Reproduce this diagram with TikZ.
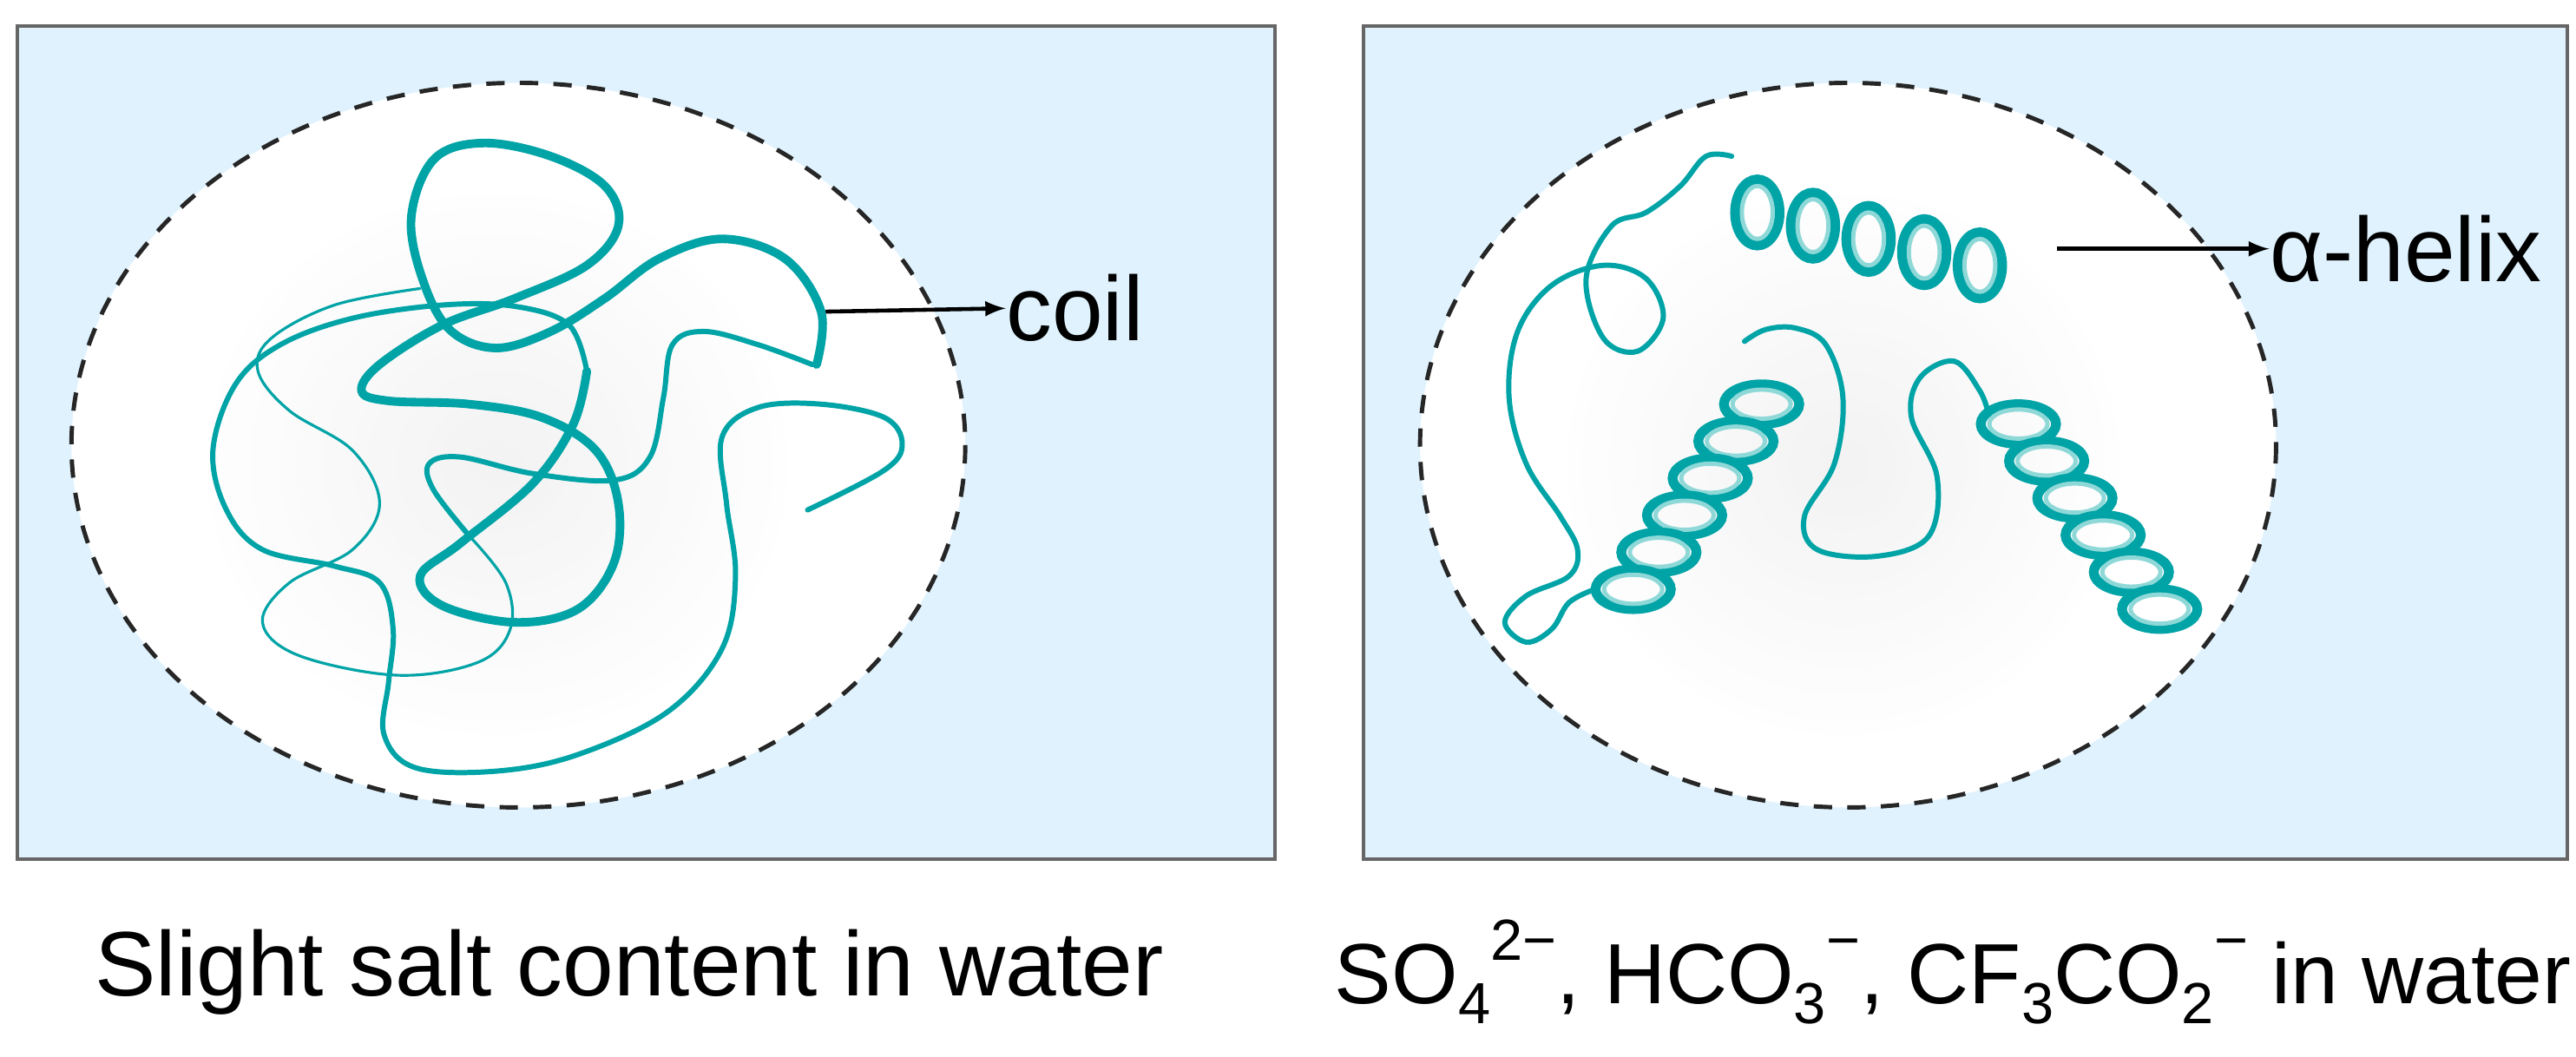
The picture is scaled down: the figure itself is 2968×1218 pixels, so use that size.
\documentclass[tikz,border=0pt]{standalone}
\usepackage{fontspec}
\setmainfont{Liberation Sans}
\newcommand\mysub[1]{\raisebox{-0.45ex}{\fontsize{19}{19}\selectfont #1}}
\newcommand\mysup[1]{\raisebox{0.95ex}{\fontsize{19}{19}\selectfont #1}}
\begin{document}
\begin{tikzpicture}[x=0.01cm,y=-0.01cm]
\definecolor{bgblue}{HTML}{DFF2FD}
\definecolor{teal1}{HTML}{00A3A6}
\definecolor{teallight}{HTML}{8ED8D8}
\tikzset{panel/.style={fill=bgblue,draw=black!60,line width=1.2pt},
  drop/.style={fill=white,draw=black!85,dashed,dash pattern=on 6pt off 5pt,line width=1.4pt},
  thickc/.style={teal1,line width=2.8pt,line cap=round},
  medc/.style={teal1,line width=1.7pt,line cap=round},
  thinc/.style={teal1,line width=0.9pt,line cap=round},
  lbl/.style={font=\fontsize{30}{34}\selectfont,inner sep=0pt},
  captext/.style={font=\fontsize{30}{34}\selectfont,inner sep=0pt},
  ptr/.style={-latex,line width=1.3pt,black},
  ring/.style={draw=teal1,line width=3.2pt,fill=none},
  ringin/.style={draw=teallight,line width=1.4pt}}
\useasboundingbox (0,0) rectangle (2968,1218);
\fill[white] (0,0) rectangle (2968,1218);
\draw[panel] (20,30) rectangle (1469,990);
\draw[panel] (1571,30) rectangle (2958,990);
% left
\begin{scope}[shift={(-9.04,1.04)},x=0.01037cm,y=-0.00762cm]
\draw[drop] (584,672) ellipse [x radius=496,y radius=548];
\shade[inner color=black!8,outer color=white,opacity=0.6] (560,700) ellipse [x radius=330,y radius=420];
\draw[thickc] plot[smooth,tension=0.6] coordinates {(915,550)(920,470)(880,390)(810,360)(740,390)(680,450)(620,500)(560,525)(510,500)(480,430)(465,330)(490,240)(545,215)(620,235)(680,280)(695,340)(660,400)(580,450)(500,490)(430,550)(410,590)(440,605)(530,610)(610,630)(670,680)(695,760)(690,850)(650,920)(580,940)(500,915)(475,870)(520,820)(600,730)(645,640)(660,560)};
\draw[medc] plot[smooth,tension=0.6] coordinates {(660,560)(640,490)(580,462)(500,460)(400,480)(320,520)(270,580)(245,680)(260,770)(300,830)(380,855)(430,880)(445,950)(440,1030)(435,1110)(470,1160)(560,1165)(650,1140)(750,1075)(810,980)(825,870)(815,760)(810,660)(850,615)(920,610)(990,630)(1010,670)(990,710)(905,770)};
\draw[thinc] plot[smooth,tension=0.6] coordinates {(475,435)(380,460)(310,510)(295,560)(330,620)(400,680)(430,760)(400,830)(330,880)(300,940)(340,990)(450,1020)(540,1000)(575,950)(570,880)(530,810)};
\draw[medc] plot[smooth,tension=0.6] coordinates {(530,810)(490,740)(485,700)(520,690)(600,715)(690,725)(730,690)(745,600)(755,520)(790,500)(850,520)(910,550)};
\coordinate (c0) at (925,470);
\node[lbl,anchor=west] (coil) at (1125,465) {coil};
\draw[ptr] (c0) -- (coil.west);
\end{scope}
% right
\begin{scope}[shift={(1531.6,1.04)},x=0.00985cm,y=-0.00762cm]
\draw[drop] (606,672) ellipse [x radius=500,y radius=548];
\shade[inner color=black!8,outer color=white,opacity=0.6] (600,700) ellipse [x radius=330,y radius=420];
\draw[medc] plot[smooth,tension=0.6] coordinates {(470,235)(440,235)(410,280)(370,320)(330,340)(300,420)(320,510)(360,530)(390,480)(370,420)(320,400)(260,430)(220,500)(210,600)(230,700)(270,780)(290,830)(280,870)(230,900)(205,940)(230,970)(260,950)(280,910)(310,890)};
\draw[medc] plot[smooth,tension=0.6] coordinates {(485,515)(510,497)(545,495)(580,520)(600,600)(590,700)(555,780)(570,830)(640,840)(700,810)(710,720)(680,630)(690,570)(730,545)(760,590)(770,625)};
\foreach \i in {0,...,4}{
  \draw[ring] ({500+\i*65},{320+\i*20}) ellipse [x radius=26,y radius=50];
  \draw[ringin] ({500+\i*65},{320+\i*20}) ellipse [x radius=18,y radius=40];}
\foreach \i in {0,...,5}{
  \draw[ring] ({505-\i*30},{610+\i*56}) ellipse [x radius=44,y radius=30];
  \draw[ringin] ({505-\i*30},{610+\i*56}) ellipse [x radius=34,y radius=22];}
\foreach \i in {0,...,5}{
  \draw[ring] ({805+\i*33},{640+\i*56}) ellipse [x radius=44,y radius=30];
  \draw[ringin] ({805+\i*33},{640+\i*56}) ellipse [x radius=34,y radius=22];}
\coordinate (h0) at (850,375);
\node[lbl,anchor=west] (helix) at (1098,375) {α-helix};
\draw[ptr] (h0) -- (helix.west);
\end{scope}
\node[captext] (cap1) at (725,1120) {Slight salt content in water};
\node[captext,font=\fontsize{28}{32}\selectfont] (cap2) at (2250,1120) {SO\mysub{4}\mysup{2−}, HCO\mysub{3}\mysup{−}, CF\mysub{3}CO\mysub{2}\mysup{−} in water};
\end{tikzpicture}
\end{document}
